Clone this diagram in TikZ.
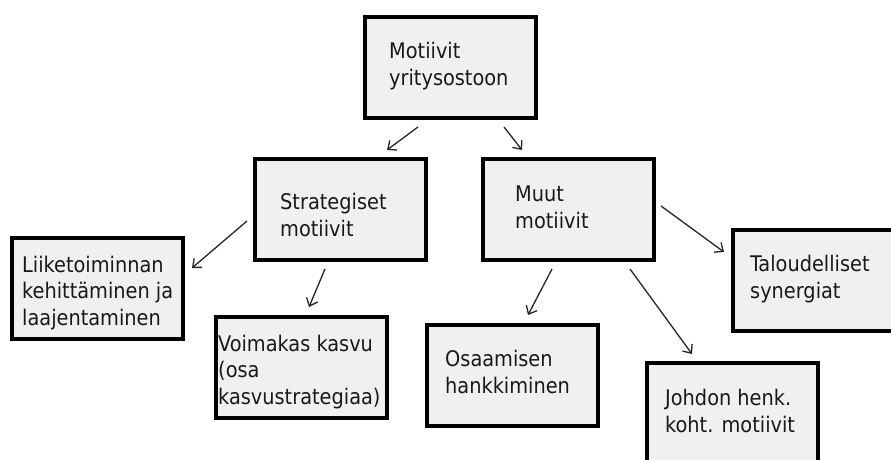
\documentclass[tikz,border=0pt]{standalone}
\usepackage{fontspec}
\setmainfont{DejaVu Sans Condensed}
\usetikzlibrary{arrows.meta}
\definecolor{boxfill}{HTML}{F0F0F0}
\definecolor{arrowgray}{HTML}{262626}
\tikzset{
  box/.style={draw=black, fill=boxfill, line width=4pt, rectangle,
    minimum width=171pt, minimum height=101pt, inner sep=0pt, outer sep=0pt},
  % base anchor of a multi-line label sits on its last line
  boxtext/.style={anchor=base west, align=left, inner sep=0pt,
    font=\fontsize{21.5}{26.5}\selectfont, text=black!90},
  arr/.style={draw=arrowgray, line width=1.3pt,
    -{Straight Barb[length=7pt,width=12pt]}}
}
\begin{document}
\begin{tikzpicture}[x=1pt,y=-1pt]
  \useasboundingbox (0,0) rectangle (891,460);
  \clip (0,0) rectangle (891,460);
  \fill[white] (0,0) rectangle (891,460);

  % boxes
  \node[box] (top)    at (450.5,67.5)  {};
  \node[box] (strat)  at (340.5,209.5) {};
  \node[box] (muut)   at (568,209.5)   {};
  \node[box] (liike)  at (97,288.5)    {};
  \node[box] (voima)  at (301.5,367)   {};
  \node[box] (osaam)  at (512.5,375.5) {};
  \node[box] (talou)  at (818.5,280.5) {};
  \node[box] (johdon) at (732,413.5)   {};

  % labels
  \node[boxtext] (ttop)    at (389,85)  {Motiivit\\yritysostoon};
  \node[boxtext] (tstrat)  at (280,236) {Strategiset\\motiivit};
  \node[boxtext] (tmuut)   at (515,228) {Muut\\motiivit};
  \node[boxtext] (tliike)  at (22,325)  {Liiketoiminnan\\kehittäminen ja\\laajentaminen};
  \node[boxtext] (tvoima)  at (218,404) {Voimakas kasvu\\(osa\\kasvustrategiaa)};
  \node[boxtext] (tosaam)  at (445,393) {Osaamisen\\hankkiminen};
  \node[boxtext] (ttalou)  at (750,298) {Taloudelliset\\synergiat};
  \node[boxtext] (tjohdon) at (665,432) {Johdon henk.\\koht. motiivit};

  % connectors
  \draw[arr] ([shift={(-32.5,59.5)}]top.center)   -- ([shift={(46.5,-59.5)}]strat.center);
  \draw[arr] ([shift={(53.5,59.5)}]top.center)    -- ([shift={(-46,-59.5)}]muut.center);
  \draw[arr] ([shift={(-93.5,11.5)}]strat.center) -- ([shift={(95,-20.5)}]liike.center);
  \draw[arr] ([shift={(-15.5,59.5)}]strat.center) -- ([shift={(7.5,-60)}]voima.center);
  \draw[arr] ([shift={(93,-3.5)}]muut.center)     -- ([shift={(-94.5,-28.5)}]talou.center);
  \draw[arr] ([shift={(-16,59.5)}]muut.center)    -- ([shift={(15.5,-60.5)}]osaam.center);
  \draw[arr] ([shift={(62,59.5)}]muut.center)     -- ([shift={(-40,-59.5)}]johdon.center);
\end{tikzpicture}
\end{document}
